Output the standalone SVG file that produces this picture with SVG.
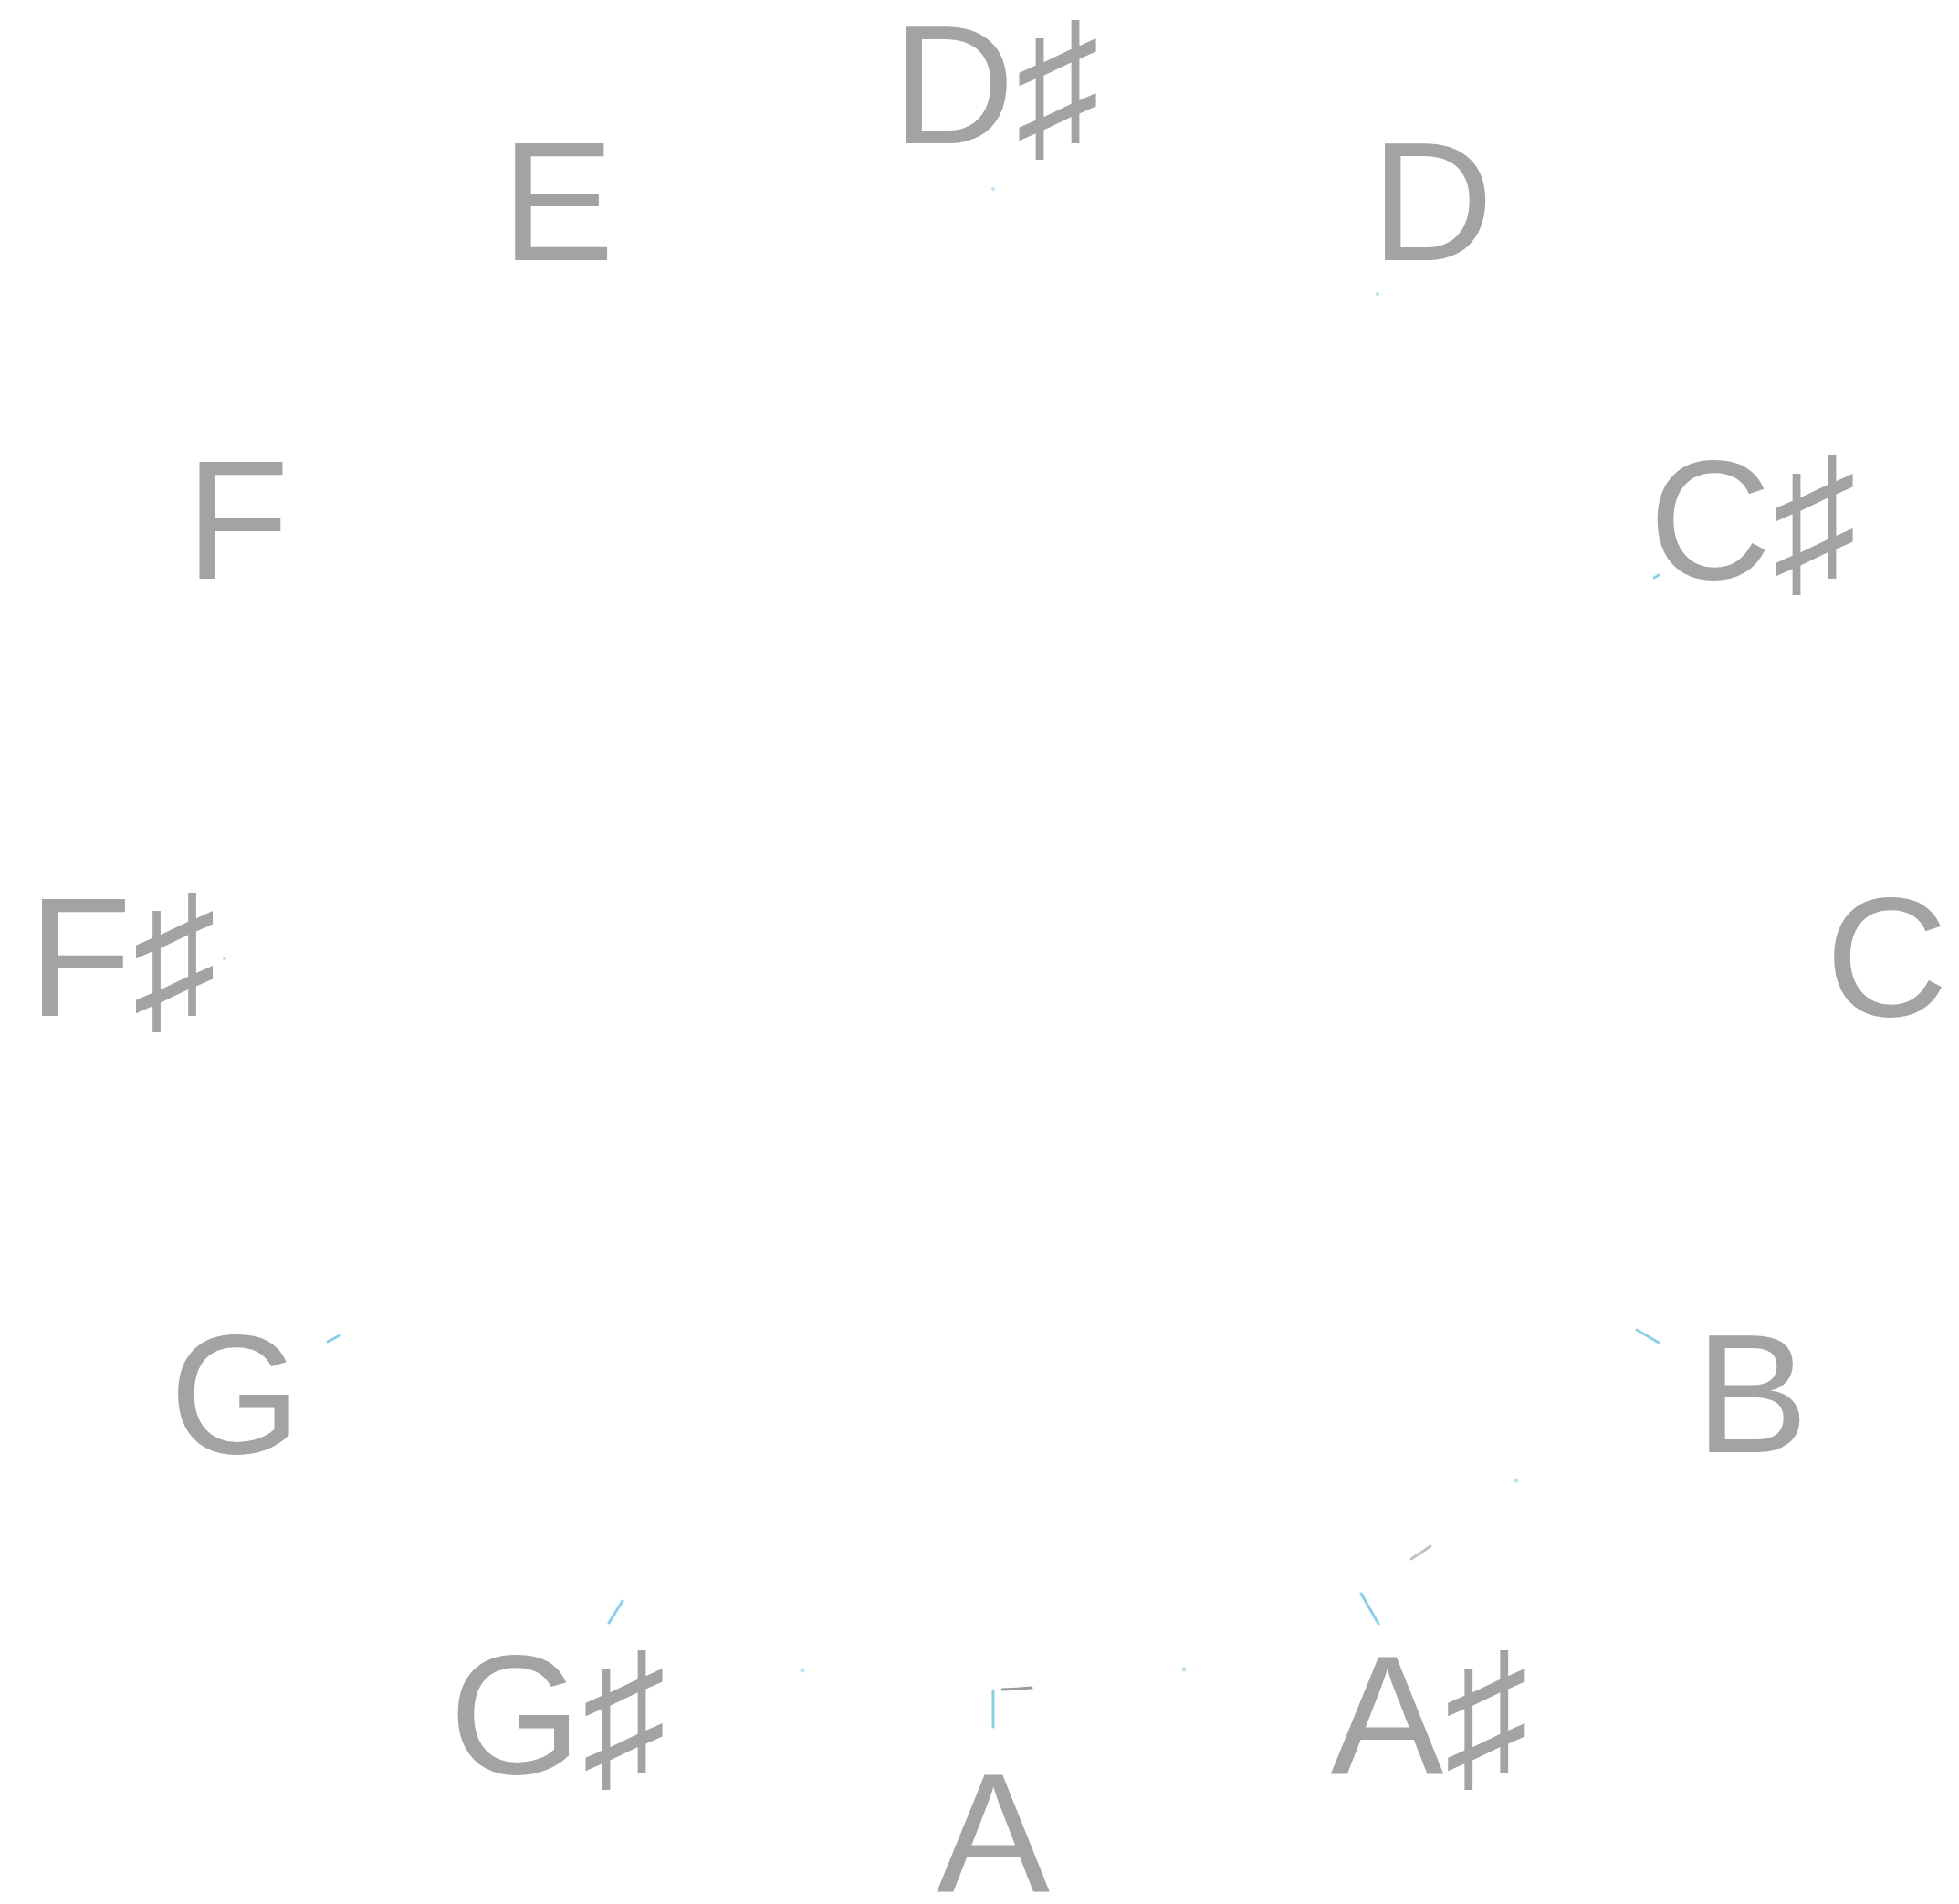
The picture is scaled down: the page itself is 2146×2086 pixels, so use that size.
<svg xmlns="http://www.w3.org/2000/svg" width="2146" height="2086" viewBox="0 0 2146 2086">
<style>
.lbl{font-family:"Liberation Sans","DejaVu Sans",sans-serif;font-size:186px;fill:#a3a3a3;text-anchor:middle}
.tick{stroke:#8ccfe8;stroke-width:3;stroke-linecap:round;fill:none}
.dot{fill:#8ccfe8;opacity:0.6}
.arc{stroke:#9a9a9a;stroke-width:3;fill:none;stroke-linecap:round}
</style>
<rect width="2146" height="2086" fill="#ffffff"/>
<g id="connectors">
<line class="tick" x1="1088" y1="1852" x2="1088" y2="1892"/>
<line class="tick" x1="1491" y1="1746" x2="1510" y2="1779"/>
<line class="tick" x1="1793" y1="1457" x2="1817" y2="1471"/>
<line class="tick" x1="359" y1="1470" x2="372" y2="1463"/>
<line class="tick" x1="667" y1="1778" x2="682" y2="1754"/>
<line class="tick" x1="1812" y1="633" x2="1817" y2="630"/>
<path class="arc" d="M1098,1851 A800,800 0 0 0 1130,1849" stroke-width="4"/>
<path class="arc" d="M1546,1708 A800,800 0 0 0 1567,1694" stroke-width="1.5" opacity="0.6"/>
<circle class="dot" cx="1661" cy="1622" r="2.5"/>
<circle class="dot" cx="1297" cy="1829" r="2.5"/>
<circle class="dot" cx="879" cy="1830" r="2.5"/>
<circle class="dot" cx="246" cy="1050" r="2"/>
<circle class="dot" cx="1509" cy="322" r="2"/>
<circle class="dot" cx="1088" cy="207" r="2" opacity="0.3"/>
</g>
<g id="node-Dsharp"><text class="lbl" x="1091" y="157">D♯</text></g>
<g id="node-D"><text class="lbl" x="1569" y="285">D</text></g>
<g id="node-Csharp"><text class="lbl" x="1920" y="634">C♯</text></g>
<g id="node-C"><text class="lbl" x="2067" y="1113">C</text></g>
<g id="node-B"><text class="lbl" x="1919" y="1591">B</text></g>
<g id="node-Asharp"><text class="lbl" x="1566" y="1943">A♯</text></g>
<g id="node-A"><text class="lbl" x="1088" y="2072">A</text></g>
<g id="node-Gsharp"><text class="lbl" x="611" y="1943">G♯</text></g>
<g id="node-G"><text class="lbl" x="258" y="1592">G</text></g>
<g id="node-Fsharp"><text class="lbl" x="134" y="1113">F♯</text></g>
<g id="node-F"><text class="lbl" x="260" y="634">F</text></g>
<g id="node-E"><text class="lbl" x="611" y="285">E</text></g>
</svg>
